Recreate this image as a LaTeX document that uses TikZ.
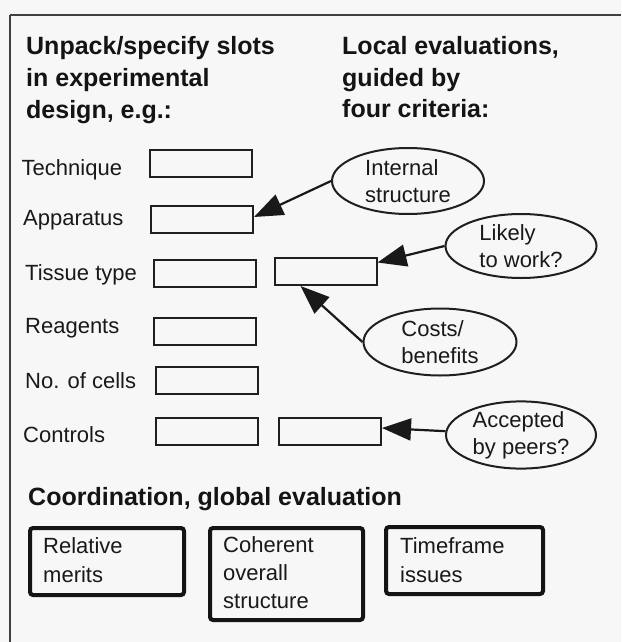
\documentclass[tikz,border=0pt]{standalone}
\usepackage{fontspec}
\setmainfont{Liberation Sans}
\usetikzlibrary{arrows.meta,shapes.geometric,calc}
\begin{document}
\begin{tikzpicture}[x=1pt,y=-1pt,
  txt/.style={inner sep=0pt, anchor=base west, text=black!90, font=\fontsize{22}{27}\selectfont},
  head/.style={inner sep=0pt, anchor=base west, text=black!92, font=\fontsize{25}{32}\selectfont\bfseries},
  slot/.style={draw=black!88, line width=2pt, minimum width=102pt, minimum height=27pt, inner sep=0pt},
  crit/.style={draw=black!88, line width=2pt, ellipse, inner sep=0pt, align=left, text=black!90, font=\fontsize{22}{27}\selectfont},
  glob/.style={draw=black!92, line width=4pt, rounded corners=3pt, inner sep=0pt},
  arr/.style={draw=black!90, line width=2.2pt, -{Triangle[length=29pt,width=22pt]}},
  frameline/.style={draw=black!75, line width=2pt}
]
\useasboundingbox[fill=black!3] (0,0) rectangle (621,642);
\draw[frameline] (10,15) -- (621,15);
\draw[frameline] (10,15) -- (10,642);

% headings
\node[head] (h1a) at (26,55) {Unpack/specify slots};
\node[head] (h1b) at (26,86) {in experimental};
\node[head] (h1c) at (26,118) {design, e.g.:};
\node[head] (h2a) at (342,55) {Local evaluations,};
\node[head] (h2b) at (342,86) {guided by};
\node[head] (h2c) at (342,117) {four criteria:};
\node[head] (h3) at (28,505) {Coordination, global evaluation};

% slot labels
\node[txt] (ltech) at (21.5,175.5) {Technique};
\node[txt] (lapp) at (23,225) {Apparatus};
\node[txt] (ltis) at (25,280) {Tissue type};
\node[txt] (lrea) at (25,333) {Reagents};
\node[txt] (lnoc) at (25,388) {No. of cells};
\node[txt] (lcon) at (23,442) {Controls};

% slots
\node[slot] (tech) at (200.5,163) {};
\node[slot] (app) at (202,219) {};
\node[slot] (tis1) at (205,273) {};
\node[slot] (tis2) at (325.5,271.5) {};
\node[slot] (rea) at (205,331) {};
\node[slot] (noc) at (207,380) {};
\node[slot] (con1) at (207,431) {};
\node[slot] (con2) at (330,431) {};

% criteria
\node[crit, minimum width=152pt, minimum height=66pt] (int) at (408,181) {Internal\\structure};
\node[crit, minimum width=151pt, minimum height=64pt] (lik) at (521,246) {Likely\\to work?};
\node[crit, minimum width=153pt, minimum height=67pt] (cost) at (440,342) {Costs/\\benefits};
\node[crit, minimum width=150pt, minimum height=65pt] (acc) at (521,435) {Accepted\\by peers?};

% arrows
\draw[arr] (int.west) -- ([yshift=2pt]app.east);
\draw[arr] (lik.west) -- ([yshift=9pt]tis2.east);
\draw[arr] (cost.west) -- ([xshift=-25pt]tis2.south);
\draw[arr] (acc) -- ([yshift=3pt]con2.east);

% global evaluation boxes
\node[glob, minimum width=154pt, minimum height=67pt] (rel) at (107,561.5) {};
\node[glob, minimum width=153pt, minimum height=92pt] (coh) at (286.5,574) {};
\node[glob, minimum width=157pt, minimum height=67pt] (tim) at (464.5,560.5) {};
\node[txt] (rel1) at (43,553) {Relative};
\node[txt] (rel2) at (43,582) {merits};
\node[txt] (coh1) at (223,552) {Coherent};
\node[txt] (coh2) at (223,580) {overall};
\node[txt] (coh3) at (223,608) {structure};
\node[txt] (tim1) at (400,553) {Timeframe};
\node[txt] (tim2) at (400,582) {issues};
\end{tikzpicture}
\end{document}
